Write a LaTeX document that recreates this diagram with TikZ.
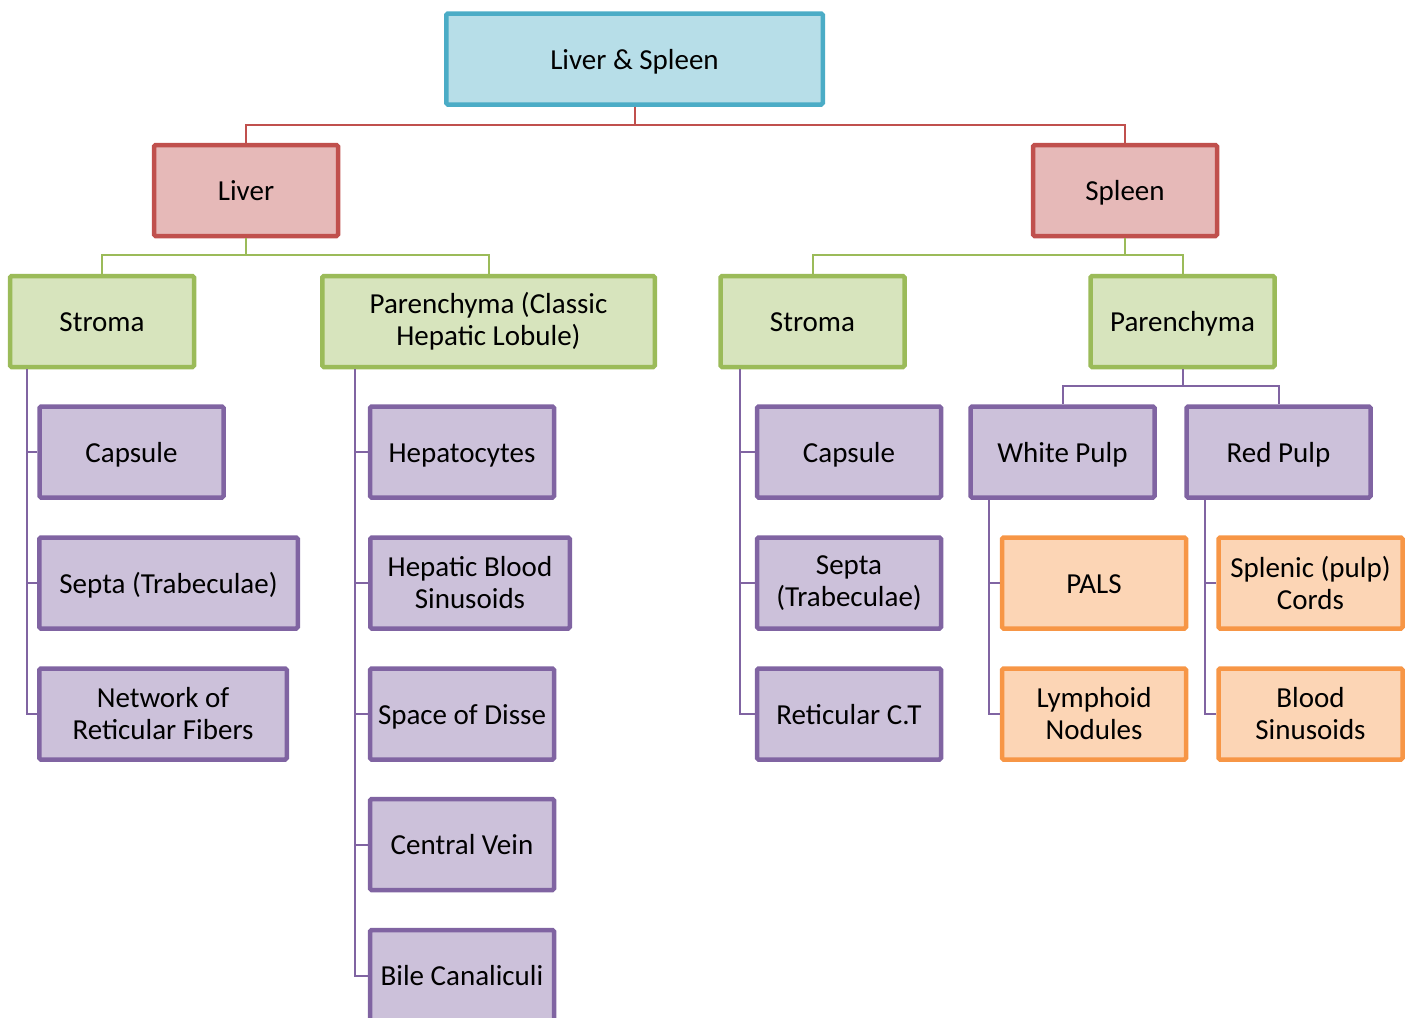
\documentclass[tikz,border=0pt]{standalone}
\usepackage{fontspec}
\setmainfont{Carlito}
\definecolor{bluebd}{HTML}{4BACC6}
\definecolor{bluefill}{HTML}{B7DEE8}
\definecolor{redbd}{HTML}{C0504D}
\definecolor{redfill}{HTML}{E6B9B8}
\definecolor{greenbd}{HTML}{9BBB59}
\definecolor{greenfill}{HTML}{D7E4BD}
\definecolor{purplebd}{HTML}{8064A2}
\definecolor{purplefill}{HTML}{CCC1DA}
\definecolor{orangebd}{HTML}{F79646}
\definecolor{orangefill}{HTML}{FCD5B5}
\begin{document}
\begin{tikzpicture}[x=1pt,y=-1pt,
  box/.style={draw, line width=4.5pt, rounded corners=1.5pt, inner sep=0pt,
    minimum width=184pt, minimum height=91pt, align=center,
    font=\fontsize{29}{32}\selectfont},
  one/.style={text height=26pt, text depth=6pt},
  bluebox/.style={box, draw=bluebd, fill=bluefill},
  redbox/.style={box, draw=redbd, fill=redfill},
  greenbox/.style={box, draw=greenbd, fill=greenfill},
  purplebox/.style={box, draw=purplebd, fill=purplefill},
  orangebox/.style={box, draw=orangebd, fill=orangefill},
  conn/.style={line width=2pt},
  redline/.style={conn, draw=redbd},
  greenline/.style={conn, draw=greenbd},
  purpleline/.style={conn, draw=purplebd}]
\useasboundingbox (0,0) rectangle (1410,1017);

% level 0/1
\node[bluebox, one, minimum width=376.5pt] (root) at (634.5,59) {Liver \& Spleen};
\node[redbox, one] (liver) at (246,190.5) {Liver};
\node[redbox, one] (spleen) at (1125,190.5) {Spleen};

% level 2
\node[greenbox, one] (lstroma) at (102,321.5) {Stroma};
\node[greenbox, minimum width=332.5pt] (lpar) at (488.5,321.5) {Parenchyma (Classic\\Hepatic Lobule)};
\node[greenbox, one] (sstroma) at (812.5,321.5) {Stroma};
\node[greenbox, one] (spar) at (1182.5,321.5) {Parenchyma};

% liver stroma children
\node[purplebox, one] (lcap) at (131.5,452) {Capsule};
\node[purplebox, one, minimum width=258.5pt] (lsep) at (168.5,583) {Septa (Trabeculae)};
\node[purplebox, minimum width=247.5pt] (lnet) at (163,714) {Network of\\Reticular Fibers};

% liver parenchyma children
\node[purplebox, one] (hep) at (462,452) {Hepatocytes};
\node[purplebox, minimum width=199.5pt] (hbs) at (470,583) {Hepatic Blood\\Sinusoids};
\node[purplebox, one] (sod) at (462,714) {Space of Disse};
\node[purplebox, one] (cv) at (462,844.5) {Central Vein};
\node[purplebox, one] (bc) at (462,975.5) {Bile Canaliculi};

% spleen stroma children
\node[purplebox, one] (scap) at (849,452) {Capsule};
\node[purplebox] (ssep) at (849,583) {Septa\\(Trabeculae)};
\node[purplebox, one] (sret) at (849,714) {Reticular C.T};

% spleen parenchyma children
\node[purplebox, one] (wp) at (1062.5,452) {White Pulp};
\node[purplebox, one] (rp) at (1278.5,452) {Red Pulp};
\node[orangebox, one] (pals) at (1094,583) {PALS};
\node[orangebox] (lym) at (1094,714) {Lymphoid\\Nodules};
\node[orangebox] (spl) at (1310.5,583) {Splenic (pulp)\\Cords};
\node[orangebox] (bs) at (1310.5,714) {Blood\\Sinusoids};

% connectors
\draw[redline] (root.south) -- ++(0,18) -| (liver.north);
\draw[redline] (root.south) -- ++(0,18) -| (spleen.north);
\draw[greenline] (liver.south) -- ++(0,17) -| (lstroma.north);
\draw[greenline] (liver.south) -- ++(0,17) -| (lpar.north);
\draw[greenline] (spleen.south) -- ++(0,17) -| (sstroma.north);
\draw[greenline] (spleen.south) -- ++(0,17) -| (spar.north);
\draw[purpleline] (spar.south) -- ++(0,17) -| (wp.north);
\draw[purpleline] (spar.south) -- ++(0,17) -| (rp.north);

\coordinate (lsx) at ([xshift=19.5pt]lstroma.south west);
\foreach \c in {lcap,lsep,lnet} \draw[purpleline] (lsx) |- (\c.west);
\coordinate (lpx) at ([xshift=34.5pt]lpar.south west);
\foreach \c in {hep,hbs,sod,cv,bc} \draw[purpleline] (lpx) |- (\c.west);
\coordinate (ssx) at ([xshift=21.5pt]sstroma.south west);
\foreach \c in {scap,ssep,sret} \draw[purpleline] (ssx) |- (\c.west);
\coordinate (wpx) at ([xshift=20.5pt]wp.south west);
\foreach \c in {pals,lym} \draw[purpleline] (wpx) |- (\c.west);
\coordinate (rpx) at ([xshift=20.5pt]rp.south west);
\foreach \c in {spl,bs} \draw[purpleline] (rpx) |- (\c.west);
\end{tikzpicture}
\end{document}
